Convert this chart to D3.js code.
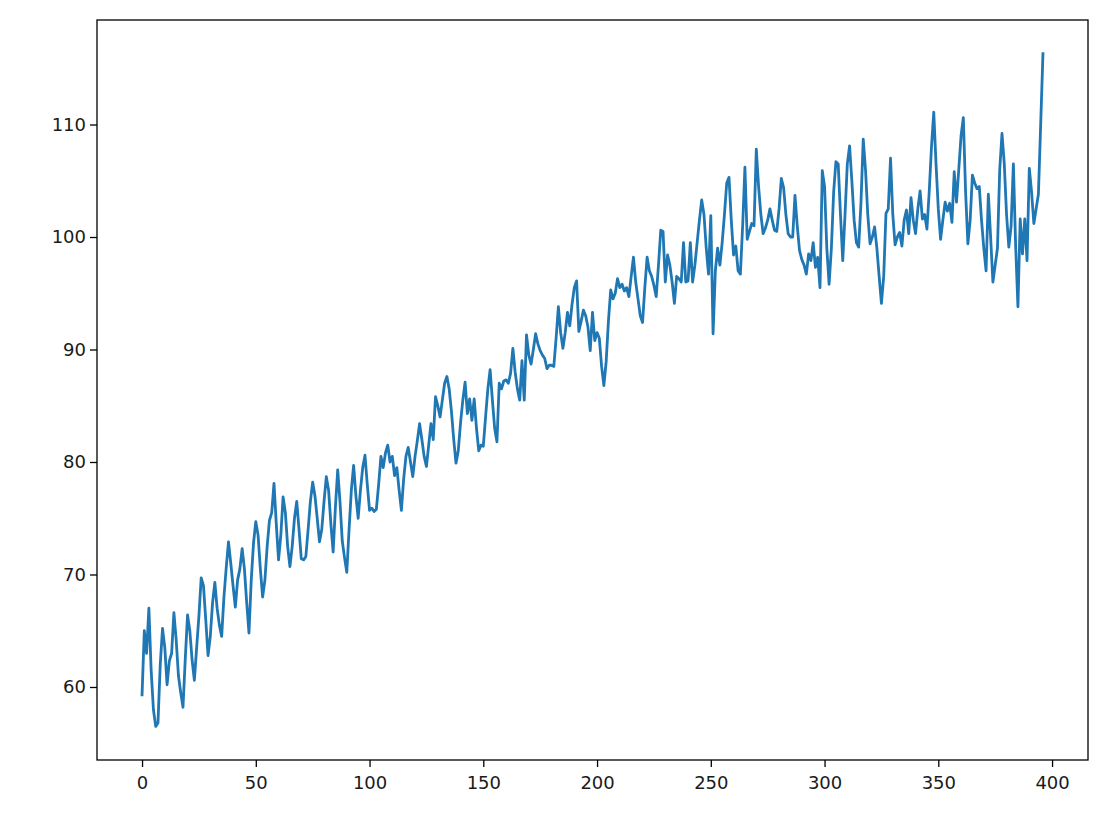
<!DOCTYPE html>
<html>
<head>
<meta charset="utf-8">
<script src="https://cdn.jsdelivr.net/npm/d3@7"></script>
<style>
  html, body { margin: 0; padding: 0; background: #fff; }
  svg { display: block; }
</style>
</head>
<body>
<svg id="chart" width="1116" height="827"></svg>
<script>
const values = [
  59.3, 65.0, 63.0, 67.0, 61.5, 58.0, 56.5, 56.8, 62.0, 65.2,
  63.5, 60.2, 62.3, 63.0, 66.6, 64.2, 61.0, 59.5, 58.2, 62.5,
  66.4, 65.0, 62.4, 60.6, 63.5, 66.3, 69.7, 69.0, 66.0, 62.8,
  64.5, 67.5, 69.3, 67.0, 65.5, 64.5, 68.0, 70.6, 72.9, 71.0,
  69.0, 67.1, 69.5, 70.5, 72.3, 70.5, 67.5, 64.8, 69.5, 72.8,
  74.7, 73.5, 70.5, 68.0, 69.5, 72.5, 74.8, 75.5, 78.1, 74.5,
  71.3, 73.5, 76.9, 75.5, 72.5, 70.7, 72.5, 75.0, 76.5, 74.0,
  71.4, 71.3, 71.6, 74.0, 76.5, 78.2, 77.0, 75.0, 72.9, 74.0,
  76.5, 78.7, 77.5, 74.5, 72.0, 76.0, 79.3, 76.5, 73.0, 71.5,
  70.2, 74.0, 77.5, 79.7, 77.0, 75.0, 77.5, 79.5, 80.6, 78.0,
  75.7, 75.9, 75.6, 75.8, 78.0, 80.5, 79.5, 80.8, 81.5, 80.0,
  80.5, 78.8, 79.5, 77.5, 75.7, 78.5, 80.5, 81.3, 80.0, 78.7,
  80.5, 81.9, 83.4, 82.0, 80.5, 79.6, 81.5, 83.4, 82.0, 85.8,
  85.0, 84.0, 85.5, 87.0, 87.6, 86.5, 84.5, 82.0, 79.9, 81.0,
  83.5, 85.5, 87.1, 84.3, 85.6, 83.7, 85.6, 83.0, 81.0, 81.5,
  81.4, 84.0, 86.5, 88.2, 85.5, 83.0, 81.8, 87.0, 86.5, 87.2,
  87.3, 87.0, 87.9, 90.1, 88.0, 86.5, 85.5, 89.0, 85.5, 91.3,
  89.5, 88.7, 90.0, 91.4, 90.5, 89.9, 89.5, 89.2, 88.3, 88.6,
  88.6, 88.5, 91.0, 93.8, 91.5, 90.1, 91.5, 93.3, 92.1, 94.0,
  95.5, 96.1, 91.6, 92.5, 93.5, 93.0, 92.0, 89.9, 93.3, 90.8,
  91.5, 91.0, 88.5, 86.8, 88.9, 92.5, 95.3, 94.5, 95.0, 96.3,
  95.5, 95.8, 95.2, 95.5, 94.7, 96.5, 98.2, 96.0, 94.5, 93.0,
  92.4, 95.5, 98.2, 97.0, 96.5, 95.7, 94.7, 97.5, 100.6, 100.5,
  96.0, 98.4, 97.5, 96.0, 94.1, 96.5, 96.3, 96.0, 99.5, 96.0,
  96.1, 99.5, 96.0, 97.5, 99.5, 101.5, 103.3, 102.0, 99.0, 96.7,
  101.9, 91.4, 97.0, 99.0, 97.5, 99.5, 102.0, 104.8, 105.3, 101.5,
  98.4, 99.2, 97.0, 96.7, 101.0, 106.2, 99.8, 100.5, 101.2, 101.0,
  107.8, 104.5, 102.0, 100.3, 100.8, 101.5, 102.5, 101.5, 100.6, 100.5,
  102.5, 105.2, 104.4, 102.0, 100.3, 100.0, 100.0, 103.7, 101.0, 98.8,
  98.0, 97.5, 96.7, 98.5, 97.9, 99.5, 97.3, 98.2, 95.5, 105.9,
  104.5, 99.0, 95.8, 99.0, 104.0, 106.7, 106.5, 102.0, 97.9, 102.0,
  106.5, 108.1, 105.0, 101.5, 99.5, 99.1, 103.0, 108.7, 106.0, 102.0,
  99.4, 100.0, 100.9, 99.0, 96.5, 94.1, 96.5, 102.1, 102.5, 107.0,
  102.0, 99.3, 100.0, 100.4, 99.2, 101.5, 102.4, 100.3, 103.5, 101.5,
  100.3, 102.5, 104.1, 101.6, 102.0, 100.7, 104.0, 108.0, 111.1, 106.5,
  102.5, 99.8, 101.5, 103.1, 102.3, 103.0, 101.3, 105.8, 103.1, 106.0,
  109.0, 110.6, 104.0, 99.4, 101.5, 105.5, 104.8, 104.3, 104.5, 101.5,
  99.0, 97.0, 103.8, 100.0, 96.0, 97.5, 99.0, 106.0, 109.2, 106.5,
  102.0, 99.1, 101.0, 106.5, 99.2, 93.8, 101.6, 98.5, 101.6, 97.9,
  106.1, 104.0, 101.2, 102.5, 103.8, 110.0, 116.3
];
const xTicks = [0, 50, 100, 150, 200, 250, 300, 350, 400];
const yTicks = [60, 70, 80, 90, 100, 110];

const margin = { left: 97, right: 1116 - 1088, top: 20, bottom: 827 - 760 };
const svg = d3.select("#chart");
const W = 1116, H = 827;
const iw = W - margin.left - margin.right;
const ih = H - margin.top - margin.bottom;

const n = values.length;
const xPad = (n - 1) * 0.05;
const yMin = d3.min(values), yMax = d3.max(values);
const yPad = (yMax - yMin) * 0.05;

const x = d3.scaleLinear().domain([-xPad, (n - 1) + xPad]).range([0, iw]);
const y = d3.scaleLinear().domain([yMin - yPad, yMax + yPad]).range([ih, 0]);

const g = svg.append("g").attr("transform", `translate(${margin.left},${margin.top})`);

const line = d3.line().x((d, i) => x(i)).y(d => y(d));
g.append("path")
  .datum(values)
  .attr("fill", "none")
  .attr("stroke", "#1f77b4")
  .attr("stroke-width", 2.8)
  .attr("stroke-linejoin", "round")
  .attr("stroke-linecap", "square")
  .attr("d", line);

const fontSize = 18;
const xAxis = d3.axisBottom(x).tickValues(xTicks).tickSize(7).tickPadding(9).tickFormat(d3.format("d"));
const yAxis = d3.axisLeft(y).tickValues(yTicks).tickSize(7).tickPadding(4).tickFormat(d3.format("d"));

const gx = g.append("g").attr("transform", `translate(0,${ih})`).call(xAxis);
const gy = g.append("g").call(yAxis);
[gx, gy].forEach(a => {
  a.select(".domain").remove();
  a.selectAll(".tick line").attr("stroke", "#000").attr("stroke-width", 1.3);
  a.selectAll(".tick text").attr("fill", "#1a1a1a").style("font-family", "'DejaVu Sans', sans-serif").style("font-size", fontSize + "px");
});

g.append("rect")
  .attr("x", 0).attr("y", 0).attr("width", iw).attr("height", ih)
  .attr("fill", "none").attr("stroke", "#000").attr("stroke-width", 1.3);
</script>
</body>
</html>
